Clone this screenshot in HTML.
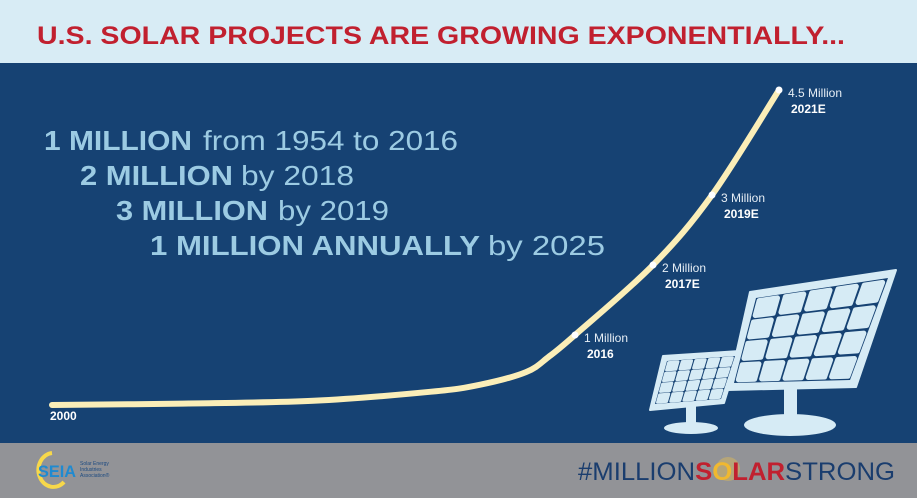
<!DOCTYPE html>
<html><head><meta charset="utf-8"><style>
html,body{margin:0;padding:0;width:917px;height:498px;overflow:hidden;font-family:"Liberation Sans",sans-serif}
</style></head><body>
<svg id="chart" width="917" height="498" viewBox="0 0 917 498" xmlns="http://www.w3.org/2000/svg">
<rect x="0" y="0" width="917" height="63" fill="#d8ecf5"/>
<rect x="0" y="63" width="917" height="380" fill="#164273"/>
<rect x="0" y="443" width="917" height="55" fill="#929397"/>
<text x="37" y="44" fill="#c1202f" font-weight="bold" font-size="25" textLength="808" lengthAdjust="spacingAndGlyphs">U.S. SOLAR PROJECTS ARE GROWING EXPONENTIALLY...</text>
<g fill="#9ccbe3" font-size="28">
<text x="44" y="150" font-weight="bold" textLength="148" lengthAdjust="spacingAndGlyphs">1 MILLION</text>
<text x="203" y="150" textLength="255" lengthAdjust="spacingAndGlyphs">from 1954 to 2016</text>
<text x="80" y="185" font-weight="bold" textLength="153" lengthAdjust="spacingAndGlyphs">2 MILLION</text>
<text x="241" y="185" textLength="113" lengthAdjust="spacingAndGlyphs">by 2018</text>
<text x="116" y="220" font-weight="bold" textLength="152" lengthAdjust="spacingAndGlyphs">3 MILLION</text>
<text x="278" y="220" textLength="111" lengthAdjust="spacingAndGlyphs">by 2019</text>
<text x="150" y="255" font-weight="bold" textLength="330" lengthAdjust="spacingAndGlyphs">1 MILLION ANNUALLY</text>
<text x="488" y="255" textLength="117" lengthAdjust="spacingAndGlyphs">by 2025</text>
</g>
<g id="panels" fill="#d6ebf5">
<rect x="784" y="380" width="13" height="42"/>
<ellipse cx="790" cy="425" rx="46" ry="11"/>
<polygon points="750,292 896,270 856,387 728,390" stroke="#d6ebf5" stroke-width="2" stroke-linejoin="round"/>
</g>
<g id="panels2" fill="#d6ebf5">
<rect x="686" y="405" width="10" height="22"/>
<ellipse cx="691" cy="428" rx="27" ry="6"/>
<polygon points="663,356 740,351 724,403 650,410" stroke="#d6ebf5" stroke-width="2" stroke-linejoin="round"/>
</g>
<g id="curve"></g>
<text x="50" y="420" fill="#fff" font-weight="bold" font-size="12">2000</text>
<g>
<path d="M52,453 A15,17 0 1 0 64,482" fill="none" stroke="#f7d84a" stroke-width="4"/>
<text x="38" y="477" font-weight="bold" font-size="17" fill="#1f8ad0" textLength="38" lengthAdjust="spacingAndGlyphs">SEIA</text>
<text x="80" y="465" font-size="5" fill="#1c4a80">Solar Energy</text>
<text x="80" y="471" font-size="5" fill="#1c4a80">Industries</text>
<text x="80" y="477" font-size="5" fill="#1c4a80">Association®</text>
</g>
<g font-size="25">
<circle cx="728" cy="469" r="12" fill="#f5c842" opacity="0.35"/>
<text x="578" y="480" textLength="317" lengthAdjust="spacingAndGlyphs"><tspan fill="#1a3d6e">#MILLION</tspan><tspan fill="#c1202f" font-weight="bold">S</tspan><tspan fill="#f0b830" font-weight="bold">O</tspan><tspan fill="#c1202f" font-weight="bold">LAR</tspan><tspan fill="#1a3d6e">STRONG</tspan></text>
</g>
</svg>
<script>
const years = [2000, 2004, 2008, 2011.6, 2013.1, 2014.5, 2015.2, 2016, 2017, 2019, 2021];
const values = [0, 0.02, 0.06, 0.19, 0.29, 0.47, 0.69, 1, 2, 3, 4.5];
const labelYears = [2016, 2017, 2019, 2021];
const labelValues = ["1 Million", "2 Million", "3 Million", "4.5 Million"];
const labelNames = ["2016", "2017E", "2019E", "2021E"];
const NS = "http://www.w3.org/2000/svg";
const xDom = [2000, 2016, 2017, 2019, 2021], xRng = [52, 575, 653, 712, 779];
function xs(y){for(let i=0;i<xDom.length-1;i++){if(y<=xDom[i+1]||i===xDom.length-2){const t=(y-xDom[i])/(xDom[i+1]-xDom[i]);return xRng[i]+t*(xRng[i+1]-xRng[i]);}}}
function ys(v){return 405 - v*70;}
function vAt(yr){const i=years.indexOf(yr);return values[i];}
const g = document.getElementById('curve');
const pts = years.map((y,i)=>[xs(y), ys(values[i])]);
let d = "M"+pts[0][0]+","+pts[0][1];
for(let i=0;i<pts.length-1;i++){
  const p0=pts[Math.max(0,i-1)],p1=pts[i],p2=pts[i+1],p3=pts[Math.min(pts.length-1,i+2)];
  const c1=[p1[0]+(p2[0]-p0[0])/6,p1[1]+(p2[1]-p0[1])/6];
  const c2=[p2[0]-(p3[0]-p1[0])/6,p2[1]-(p3[1]-p1[1])/6];
  d+=" C"+c1+" "+c2+" "+p2;
}
const path=document.createElementNS(NS,'path');
path.setAttribute('d',d);path.setAttribute('fill','none');path.setAttribute('stroke','#fbeeb8');path.setAttribute('stroke-width','6');path.setAttribute('stroke-linecap','round');


g.appendChild(path);
labelYears.forEach((yr,i)=>{
  const x=xs(yr), y=ys(vAt(yr));
  const c=document.createElementNS(NS,'circle');
  c.setAttribute('cx',x);c.setAttribute('cy',y);c.setAttribute('r','3.5');c.setAttribute('fill','#fff');
  
  
  g.appendChild(c);
  const t1=document.createElementNS(NS,'text');
  t1.setAttribute('x',x+9);t1.setAttribute('y',y+7);t1.setAttribute('fill','#e6eef5');t1.setAttribute('font-size','12');
  t1.textContent=labelValues[i];
  
  
  g.appendChild(t1);
  const t2=document.createElementNS(NS,'text');
  t2.setAttribute('x',x+12);t2.setAttribute('y',y+23);t2.setAttribute('fill','#fff');t2.setAttribute('font-size','12');t2.setAttribute('font-weight','bold');
  t2.textContent=labelNames[i];
  
  
  g.appendChild(t2);
});
function cells(group, quad, rows, cols, pad, sw){
  const [a,b,c,dd]=quad;
  const lerp=(p,q,t)=>[p[0]+(q[0]-p[0])*t,p[1]+(q[1]-p[1])*t];
  const inner=document.createElementNS(NS,'polygon');
  inner.setAttribute('points',quad.map(q=>q.join(',')).join(' '));inner.setAttribute('fill','#164273');
  
  
  group.appendChild(inner);
  for(let r=0;r<rows;r++)for(let k=0;k<cols;k++){
    const pt=(u,v)=>{const top=lerp(a,b,u),bot=lerp(dd,c,u);return lerp(top,bot,v);};
    const u0=k/cols+pad/cols,u1=(k+1)/cols-pad/cols,v0=r/rows+pad/rows,v1=(r+1)/rows-pad/rows;
    const p=document.createElementNS(NS,'polygon');
    p.setAttribute('points',[pt(u0,v0),pt(u1,v0),pt(u1,v1),pt(u0,v1)].map(q=>q.join(',')).join(' '));
    p.setAttribute('fill','#d6ebf5');p.setAttribute('stroke','#d6ebf5');p.setAttribute('stroke-width',sw);p.setAttribute('stroke-linejoin','round');
    
    
    group.appendChild(p);
  }
}
cells(document.getElementById('panels'),[[756,298],[888,278],[850,380],[734,383]],4,5,0.15,5);
cells(document.getElementById('panels2'),[[667,361],[735,356],[721,399],[655,404]],4,5,0.14,2.5);
</script>
</body></html>
